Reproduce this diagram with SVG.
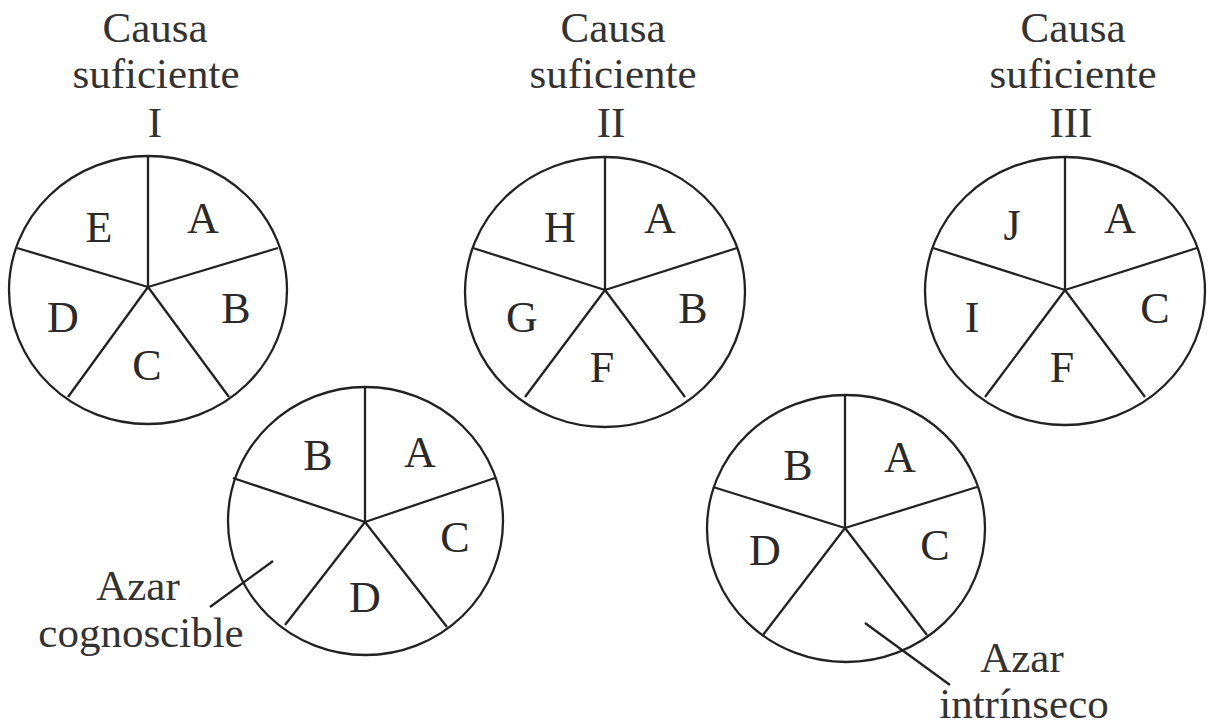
<svg xmlns="http://www.w3.org/2000/svg" width="1209" height="725" viewBox="0 0 1209 725">
<style>
.c{fill:none;stroke:#222;stroke-width:2.3}
.s{stroke:#222;stroke-width:2.3;fill:none}
.t{font-family:"Liberation Serif","Times New Roman",serif;font-size:43px;fill:#333;text-anchor:middle}
.l{font-family:"Liberation Serif","Times New Roman",serif;font-size:44px;fill:#2a2a2a;text-anchor:middle}
</style>
<rect width="1209" height="725" fill="#fff"/>
<g id="title-I"><text class="t" x="155" y="42">Causa</text><text class="t" x="156" y="88">suficiente</text><text class="t" x="155" y="137">I</text></g>
<g id="title-II"><text class="t" x="613" y="42">Causa</text><text class="t" x="613" y="88">suficiente</text><text class="t" x="611" y="137">II</text></g>
<g id="title-III"><text class="t" x="1073" y="42">Causa</text><text class="t" x="1073" y="88">suficiente</text><text class="t" x="1071" y="137">III</text></g>

<g id="pie-I">
<ellipse class="c" cx="148" cy="290" rx="139" ry="134"/>
<path class="s" d="M148,287V157M148,287L278,248M148,287L229,397M148,287L68,397M148,287L17,248"/>
<text class="l" x="99" y="242">E</text><text class="l" x="203" y="233">A</text><text class="l" x="236" y="323">B</text><text class="l" x="147" y="380">C</text><text class="l" x="63" y="332">D</text>
</g>
<g id="pie-II">
<ellipse class="c" cx="605" cy="292" rx="140" ry="135"/>
<path class="s" d="M605,290V157M605,290L737,248M605,290L685,397M605,290L525,397M605,290L473,248"/>
<text class="l" x="560" y="242">H</text><text class="l" x="660" y="233">A</text><text class="l" x="693" y="323">B</text><text class="l" x="602" y="382">F</text><text class="l" x="522" y="332">G</text>
</g>
<g id="pie-III">
<ellipse class="c" cx="1065" cy="291" rx="140" ry="134"/>
<path class="s" d="M1065,290V157M1065,290L1197,248M1065,290L1145,397M1065,290L985,397M1065,290L933,248"/>
<text class="l" x="1012" y="240">J</text><text class="l" x="1120" y="233">A</text><text class="l" x="1155" y="323">C</text><text class="l" x="1062" y="382">F</text><text class="l" x="972" y="332">I</text>
</g>
<g id="pie-cognoscible">
<ellipse class="c" cx="365.5" cy="521" rx="137.5" ry="134"/>
<path class="s" d="M365,522V387M365,522L495,478M365,522L447,627M365,522L285,625M365,522L233,478"/>
<text class="l" x="318" y="470">B</text><text class="l" x="420" y="467">A</text><text class="l" x="455" y="552">C</text><text class="l" x="365" y="612">D</text>
</g>
<g id="pie-intrinseco">
<ellipse class="c" cx="846" cy="528.5" rx="139" ry="133.5"/>
<path class="s" d="M845,528V395M845,528L977,487M845,528L927,635M845,528L763,635M845,528L713,487"/>
<text class="l" x="798" y="480">B</text><text class="l" x="900" y="472">A</text><text class="l" x="765" y="565">D</text><text class="l" x="935" y="560">C</text>
</g>
<g id="label-cognoscible"><text class="t" x="138" y="600">Azar</text><text class="t" x="141" y="647">cognoscible</text></g>
<g id="label-intrinseco"><text class="t" x="1022" y="672">Azar</text><text class="t" x="1024" y="718">intrínseco</text></g>
<g id="connectors">
<line class="s" x1="210" y1="607" x2="273" y2="561"/>
<line class="s" x1="865" y1="623" x2="950" y2="685"/>
</g>
</svg>
